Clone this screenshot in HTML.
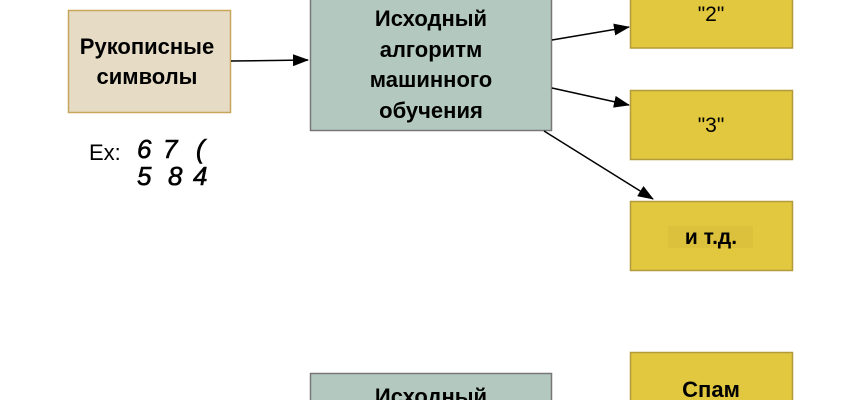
<!DOCTYPE html>
<html><head><meta charset="utf-8"><style>
body{margin:0;width:860px;height:400px;overflow:hidden;background:#fff}
svg text{font-family:"Liberation Sans","DejaVu Sans",sans-serif}
</style></head><body>
<svg width="860" height="400" xmlns="http://www.w3.org/2000/svg">
<defs><marker id="a" markerWidth="16" markerHeight="12" refX="15" refY="6" orient="auto" markerUnits="userSpaceOnUse"><path d="M0,0L16,6L0,12Z" fill="#000"/></marker></defs>
<rect x="68.5" y="10.5" width="162" height="102" fill="#e6dcc6" stroke="#c7a55a" stroke-width="1.5"/>
<text x="147" y="54" text-anchor="middle" font-size="22" font-weight="bold">Рукописные</text>
<text x="147" y="84" text-anchor="middle" font-size="22" font-weight="bold">символы</text>
<rect x="310.5" y="-5" width="241" height="135.5" fill="#b3c9c0" stroke="#777" stroke-width="1.5"/>
<text x="431" y="26" text-anchor="middle" font-size="22" font-weight="bold">Исходный</text>
<text x="431" y="57" text-anchor="middle" font-size="22" font-weight="bold">алгоритм</text>
<text x="431" y="87" text-anchor="middle" font-size="22" font-weight="bold">машинного</text>
<text x="431" y="118" text-anchor="middle" font-size="22" font-weight="bold">обучения</text>
<g fill="#e2c83e" stroke="#b49a3a" stroke-width="1.5">
<rect x="630.5" y="-5" width="162" height="53"/>
<rect x="630.5" y="90.5" width="162" height="69"/>
<rect x="630.5" y="201.5" width="162" height="69"/>
<rect x="630.5" y="352.5" width="162" height="60"/>
</g>
<rect x="668" y="226" width="85" height="22" fill="#dcc23c"/>
<text x="711" y="21" text-anchor="middle" font-size="21">"2"</text>
<text x="711" y="132" text-anchor="middle" font-size="21">"3"</text>
<text x="711" y="244" text-anchor="middle" font-size="21" font-weight="bold">и т.д.</text>
<text x="711" y="397" text-anchor="middle" font-size="22" font-weight="bold">Спам</text>
<rect x="310.5" y="373.5" width="241" height="40" fill="#b3c9c0" stroke="#777" stroke-width="1.5"/>
<text x="431" y="404" text-anchor="middle" font-size="22" font-weight="bold">Исходный</text>
<g stroke="#000" stroke-width="1.5" marker-end="url(#a)">
<line x1="231" y1="61" x2="308" y2="60"/>
<line x1="552" y1="40" x2="629" y2="27"/>
<line x1="552" y1="88" x2="629" y2="105"/>
<line x1="544" y1="131" x2="653" y2="199"/>
</g>
<text x="89" y="160" font-size="22">Ex:</text>
<g font-family="Liberation Serif,serif" font-style="italic" font-size="26" stroke="#000" stroke-width="0.6">
<text x="137" y="158">6</text><text x="163" y="158">7</text><text x="196" y="158">(</text>
<text x="137" y="185">5</text><text x="168" y="185">8</text><text x="193" y="185">4</text>
</g>
</svg>
</body></html>
